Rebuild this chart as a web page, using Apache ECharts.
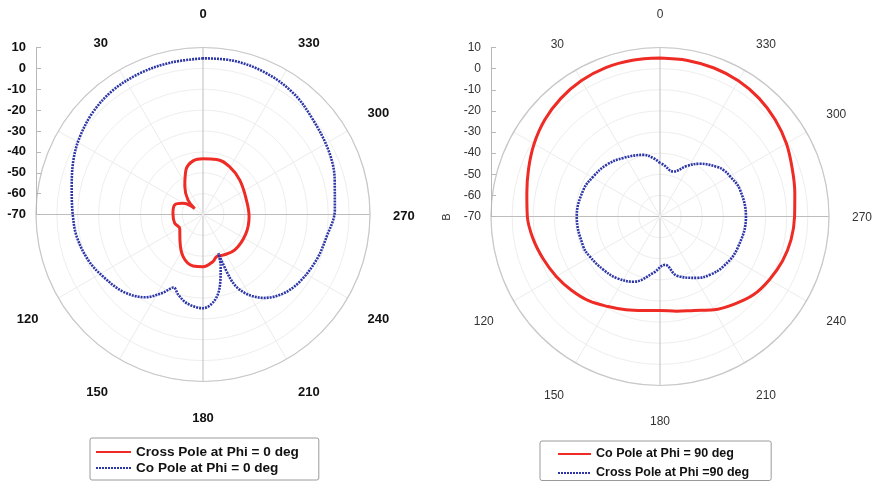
<!DOCTYPE html>
<html><head><meta charset="utf-8">
<script src="https://cdn.jsdelivr.net/npm/echarts/dist/echarts.min.js"></script>
<style>html,body{margin:0;padding:0;background:#fff}#c{width:880px;height:484px}</style>
</head><body><div id="c"></div>
<script>
// ---- tick labels ----
const angleTicks = ['0','30','60','90','120','150','180','210','240','270','300','330'];
const hiddenAngleTicks = ['60','90'];
const topAngleTicks = ['0'];
const bottomAngleTicks = ['150','180','210'];
const radialTicks = [-70,-60,-50,-40,-30,-20,-10,0,10];

// ---- left chart: Phi = 0 deg ----
const crossPhi0Angles = [0,10,21,33,46,54,61,71,88,107,121,138,155,169,180,192,198,206,222,245,267,288,313,331,346,360];
const crossPhi0Values = [-43.3,-43.8,-47.2,-54,-60,-65.1,-59,-55.7,-55.6,-55.8,-57,-53.5,-47.6,-44.9,-45,-47,-48.8,-48.3,-47.2,-47.5,-47.9,-48.1,-45.9,-43.8,-42.8,-43.3];
const coPhi0Angles = [0,12,24,36,47,58,67,78,90,100,112,122,134,145,153,158,163,170,180,188,194,199,201.5,203,205,208,211,216,225,235,248,260,272,285,297,311,323,336,349,360];
const coPhi0Values = [4.8,4.4,4.1,3.5,2.0,-0.3,-2.6,-5.7,-7.6,-8.6,-10.9,-13.7,-16.8,-21.6,-28,-32.3,-29.7,-26.7,-25.1,-28.7,-36,-44,-50,-37,-31.5,-27.5,-24.5,-20.6,-16.2,-13.6,-11.5,-9.8,-6.8,-4.7,-2.5,-0.4,2.4,4.2,5.1,4.8];

// ---- right chart: Phi = 90 deg ----
const coPhi90Angles = [0,10,20,30,40,50,60,70,80,90,100,110,120,130,140,150,160,170,180,190,200,210,220,230,240,250,260,270,280,290,300,310,320,330,340,350,360];
const coPhi90Values = [5.0,5.1,5.0,4.3,3.0,1.2,-1.2,-3.8,-6.0,-7.2,-9.0,-11.2,-13.3,-15.5,-17.8,-20.8,-23.0,-24.8,-25.5,-24.5,-22.7,-19.0,-15.7,-12.3,-10.2,-8.3,-7.0,-6.3,-5.2,-3.4,-0.9,1.2,3.0,4.2,4.8,5.0,5.0];
const crossPhi90Angles = [0,6.5,15,32,46,59,71,90,111,120,133,145,158,173,186,196,211,221,232,247,270,289,300,306,311,323,332,343.5,356,360];
const crossPhi90Values = [-44.7,-42.2,-39.8,-37.3,-34.8,-33.2,-31.6,-30.6,-31,-31.8,-33.2,-34.4,-36.7,-43,-47,-40.8,-36.1,-33.6,-31.8,-30.4,-29.3,-30.1,-31.8,-32.7,-34.2,-38.7,-42.9,-47.8,-45.5,-44.7];

const names = ['Cross Pole at Phi = 0 deg','Co Pole at Phi = 0 deg','Co Pole at Phi = 90 deg','Cross Pole at Phi =90 deg'];

const FONT = 'Liberation Sans, Arial, sans-serif';
const RED = '#ee2b24';
const BLUE = '#2d36a6';

function pairs(angles, values){ return angles.map((a,i)=>[values[i], a]); }
function angleFmt(v){
  const s = String(v);
  if (!angleTicks.includes(s) || hiddenAngleTicks.includes(s)) return '';
  const k = topAngleTicks.includes(s) ? 't' : (bottomAngleTicks.includes(s) ? 'b' : 's');
  return '{' + k + '|' + s + '}';
}

function angleAxis(idx, bold, margin){
  const base = {color: bold ? '#111' : '#333', fontSize: bold ? 13 : 12,
    fontWeight: bold ? 'bold' : 'normal', fontFamily: FONT};
  return {
    polarIndex: idx, type: 'value', min: 0, max: 360, interval: 30,
    startAngle: 90, clockwise: false,
    axisLine: {show: true, lineStyle: {color: '#c8c8c8', width: 1.2}},
    axisTick: {show: false},
    axisLabel: Object.assign({margin: margin, formatter: angleFmt,
      rich: {
        t: Object.assign({padding: [0, 0, 4, 0]}, base),
        s: Object.assign({padding: [3, 0, 0, 0]}, base),
        b: Object.assign({padding: [7, 0, 0, 0]}, base)
      }}, base),
    splitLine: {show: true, lineStyle: {color: ['#bdbdbd','#ececec','#ececec'], width: 1}}
  };
}
function radiusAxis(idx){
  return {
    polarIndex: idx, type: 'value', min: radialTicks[0], max: radialTicks[radialTicks.length-1],
    interval: radialTicks[1]-radialTicks[0],
    axisLine: {show: false}, axisTick: {show: false}, axisLabel: {show: false},
    splitLine: {show: true, lineStyle: {color: '#eeeeee', width: 1}}
  };
}
function yAxis(idx, bold){
  return {
    gridIndex: idx, type: 'value', position: 'left',
    min: radialTicks[0], max: radialTicks[radialTicks.length-1], interval: radialTicks[1]-radialTicks[0],
    axisLine: {show: true, lineStyle: {color: '#b8b8b8'}},
    axisTick: {show: true, inside: true, length: 5, lineStyle: {color: '#b8b8b8'}},
    axisLabel: {margin: 10, color: bold ? '#111' : '#333', fontSize: bold ? 13 : 12,
      fontWeight: bold ? 'bold' : 'normal', fontFamily: FONT},
    splitLine: {show: false}
  };
}
function legend(data, left, top, padding, itemWidth, gap, fontSize){
  return {
    data: data, orient: 'vertical', left: left, top: top,
    padding: padding, itemGap: gap, itemWidth: itemWidth, itemHeight: 4,
    borderColor: '#9a9a9a', borderWidth: 1, borderRadius: 2,
    selectedMode: false,
    itemStyle: {opacity: 0},
    textStyle: {fontFamily: FONT, fontWeight: 'bold', fontSize: fontSize, color: '#111'}
  };
}

const chart = echarts.init(document.getElementById('c'), null, {renderer: 'canvas'});
chart.setOption({
  animation: false,
  backgroundColor: '#fff',
  polar: [
    {center: [203, 214.5], radius: 167},
    {center: [660, 216.5], radius: 169}
  ],
  angleAxis: [angleAxis(0, true, 23), angleAxis(1, false, 23)],
  radiusAxis: [radiusAxis(0), radiusAxis(1)],
  grid: [
    {left: 36, top: 47.5, width: 10, height: 167},
    {left: 491, top: 47.5, width: 10, height: 169}
  ],
  xAxis: [{gridIndex: 0, type: 'value', show: false}, {gridIndex: 1, type: 'value', show: false}],
  yAxis: [yAxis(0, true), yAxis(1, false)],
  legend: [
    legend([names[0], names[1]], 90, 438, [7, 20, 5, 5], 35, 2, 13.6),
    legend([names[2], names[3]], 540, 441, [6.5, 22, 1, 17], 33, 6, 12.5)
  ],
  graphic: [{type: 'text', x: 447, y: 217, rotation: Math.PI/2,
    style: {text: 'B', fill: '#333', font: '11px ' + FONT, align: 'center', verticalAlign: 'middle'}}],
  series: [
    {name: names[0], type: 'line', coordinateSystem: 'polar', polarIndex: 0, symbol: 'none', smooth: 0.4,
     data: pairs(crossPhi0Angles, crossPhi0Values), lineStyle: {color: RED, width: 3}, itemStyle: {color: RED}},
    {name: names[1], type: 'line', coordinateSystem: 'polar', polarIndex: 0, symbol: 'none', smooth: 0.35,
     data: pairs(coPhi0Angles, coPhi0Values), lineStyle: {color: BLUE, width: 2.6, type: [2, 1]}, itemStyle: {color: BLUE}},
    {name: names[2], type: 'line', coordinateSystem: 'polar', polarIndex: 1, symbol: 'none', smooth: 0.35,
     data: pairs(coPhi90Angles, coPhi90Values), lineStyle: {color: RED, width: 3}, itemStyle: {color: RED}},
    {name: names[3], type: 'line', coordinateSystem: 'polar', polarIndex: 1, symbol: 'none', smooth: 0.4,
     data: pairs(crossPhi90Angles, crossPhi90Values), lineStyle: {color: BLUE, width: 2.6, type: [2, 1]}, itemStyle: {color: BLUE}}
  ]
});
</script></body></html>
